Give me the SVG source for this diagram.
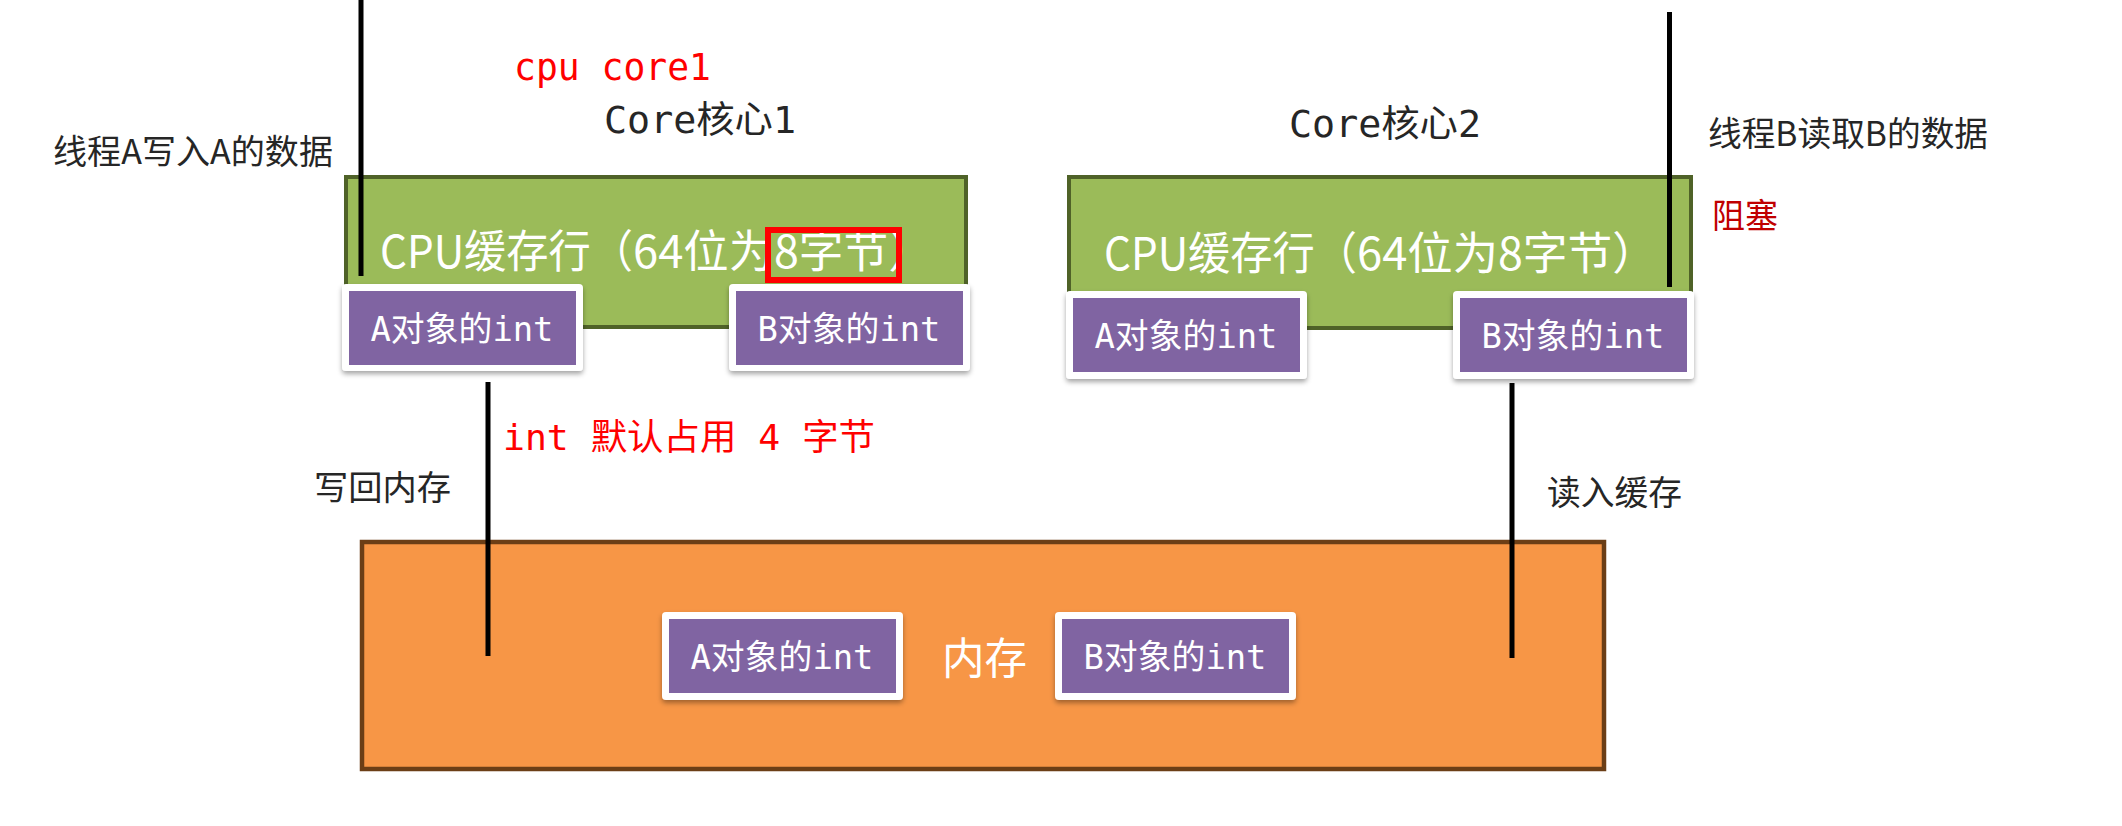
<svg xmlns="http://www.w3.org/2000/svg" width="2122" height="826" viewBox="0 0 2122 826">
<defs>
<filter id="sh" x="-10%" y="-10%" width="120%" height="130%">
<feDropShadow dx="0" dy="3" stdDeviation="2.5" flood-color="#000" flood-opacity="0.35"/>
</filter>
<style>
.cache{fill:#9bbb59;stroke:#4f6228;stroke-width:4}
.mem{fill:#f79646;stroke:#6b3e16;stroke-width:4.5}
.frame{fill:#ffffff;filter:url(#sh)}
.cell{fill:#8064a2}
.cellt{font-family:"DejaVu Sans Mono","Noto Sans CJK SC",monospace;font-size:34px;fill:#ffffff;text-anchor:middle}
.lbl{font-family:"Noto Sans CJK SC","Noto Sans",sans-serif;font-size:34px;fill:#262626}
.mono{font-family:"DejaVu Sans Mono","Noto Sans CJK SC",monospace;font-size:37px}
.big{font-family:"Noto Sans CJK SC","Noto Sans",sans-serif;font-size:45px;fill:#ffffff}
.conn{stroke:#000;stroke-width:5;fill:none}
</style>
</defs>
<rect width="2122" height="826" fill="#ffffff"/>

<g id="memory">
<rect class="mem" x="362" y="542" width="1242" height="227"/>
<text x="942" y="674" font-family="Noto Sans CJK SC, sans-serif" font-size="43" fill="#ffffff" textLength="85" lengthAdjust="spacingAndGlyphs">内存</text>
</g>
<g id="mem-a">
<rect class="frame" x="662" y="612" width="241" height="88" rx="4"/>
<rect class="cell" x="669" y="619" width="227" height="74"/>
<text class="cellt" x="782" y="669" textLength="183" lengthAdjust="spacingAndGlyphs">A对象的int</text>
</g>
<g id="mem-b">
<rect class="frame" x="1055" y="612" width="241" height="88" rx="4"/>
<rect class="cell" x="1062" y="619" width="227" height="74"/>
<text class="cellt" x="1175" y="669" textLength="183" lengthAdjust="spacingAndGlyphs">B对象的int</text>
</g>

<g id="core1">
<text class="mono" x="514" y="80" fill="#ff0000" textLength="197" lengthAdjust="spacingAndGlyphs">cpu core1</text>
<text class="mono" x="604" y="133" fill="#262626" textLength="192" lengthAdjust="spacingAndGlyphs">Core核心1</text>
<rect class="cache" x="346" y="177" width="620" height="150"/>
<text class="big" x="380" y="268" textLength="253" lengthAdjust="spacingAndGlyphs">CPU缓存行（</text>
<text class="big" x="633" y="268" textLength="141" lengthAdjust="spacingAndGlyphs">64位为</text>
<text class="big" x="774" y="268" textLength="159" lengthAdjust="spacingAndGlyphs">8字节）</text>
<rect x="768" y="230" width="131" height="50" fill="none" stroke="#ff0000" stroke-width="6"/>
</g>
<g id="core1-a">
<rect class="frame" x="342" y="284" width="241" height="87" rx="4"/>
<rect class="cell" x="349" y="291" width="227" height="74"/>
<text class="cellt" x="462" y="341" textLength="183" lengthAdjust="spacingAndGlyphs">A对象的int</text>
</g>
<g id="core1-b">
<rect class="frame" x="729" y="284" width="241" height="87" rx="4"/>
<rect class="cell" x="736" y="291" width="227" height="74"/>
<text class="cellt" x="849" y="341" textLength="183" lengthAdjust="spacingAndGlyphs">B对象的int</text>
</g>

<g id="core2">
<text class="mono" x="1289" y="137" fill="#262626" textLength="192" lengthAdjust="spacingAndGlyphs">Core核心2</text>
<rect class="cache" x="1069" y="177" width="622" height="151"/>
<text class="big" x="1104" y="270" textLength="253" lengthAdjust="spacingAndGlyphs">CPU缓存行（</text>
<text class="big" x="1357" y="270" textLength="141" lengthAdjust="spacingAndGlyphs">64位为</text>
<text class="big" x="1498" y="270" textLength="159" lengthAdjust="spacingAndGlyphs">8字节）</text>
</g>
<g id="core2-a">
<rect class="frame" x="1066" y="291" width="241" height="88" rx="4"/>
<rect class="cell" x="1073" y="298" width="227" height="74"/>
<text class="cellt" x="1186" y="348" textLength="183" lengthAdjust="spacingAndGlyphs">A对象的int</text>
</g>
<g id="core2-b">
<rect class="frame" x="1453" y="291" width="241" height="88" rx="4"/>
<rect class="cell" x="1460" y="298" width="227" height="74"/>
<text class="cellt" x="1573" y="348" textLength="183" lengthAdjust="spacingAndGlyphs">B对象的int</text>
</g>

<g id="labels">
<text class="lbl" x="53" y="164" textLength="280" lengthAdjust="spacingAndGlyphs">线程A写入A的数据</text>
<text class="lbl" x="1708" y="146" textLength="280" lengthAdjust="spacingAndGlyphs">线程B读取B的数据</text>
<text class="lbl" x="1712" y="228" style="fill:#c00000" textLength="66" lengthAdjust="spacingAndGlyphs">阻塞</text>
<text class="lbl" x="314" y="500" textLength="137" lengthAdjust="spacingAndGlyphs">写回内存</text>
<text class="lbl" x="1547" y="505" textLength="135" lengthAdjust="spacingAndGlyphs">读入缓存</text>
<text x="503" y="450" font-family="DejaVu Sans Mono, Noto Sans CJK SC, monospace" font-size="36" fill="#ff0000" textLength="372" lengthAdjust="spacingAndGlyphs">int 默认占用 4 字节</text>
</g>

<g id="connectors">
<line class="conn" x1="361" y1="0" x2="361" y2="276"/>
<line class="conn" x1="1669.5" y1="12" x2="1669.5" y2="287"/>
<line class="conn" x1="488" y1="382" x2="488" y2="656"/>
<line class="conn" x1="1512" y1="383" x2="1512" y2="658"/>
</g>
</svg>
